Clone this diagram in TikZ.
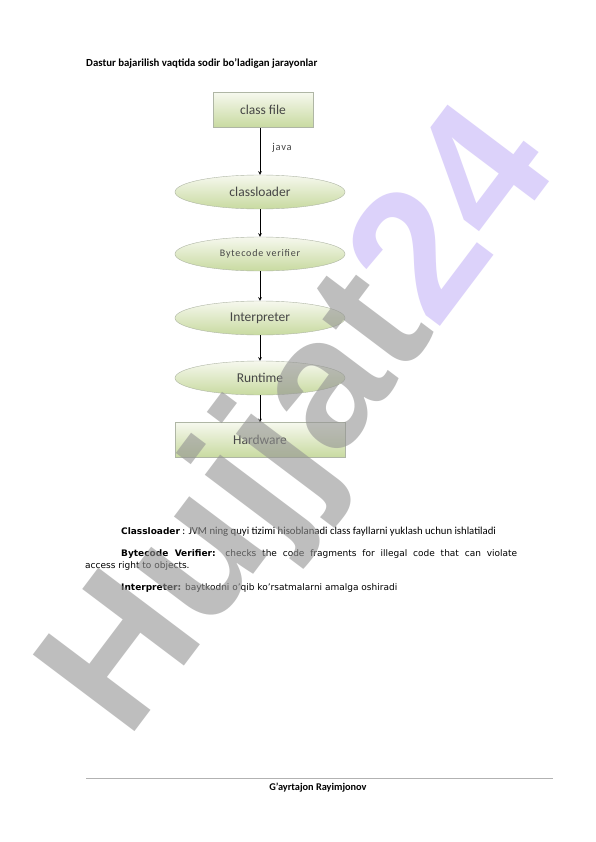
\documentclass[tikz,border=0pt]{standalone}
\usepackage{fontspec}
\setmainfont{Carlito}
\newfontfamily\verdanafont{DejaVu Sans}
\newfontfamily\spacedfont[LetterSpace=8]{Carlito}
\newfontfamily\markfont{Liberation Sans}
\usetikzlibrary{shapes.geometric}
\definecolor{boxline}{RGB}{175,182,165}
\definecolor{greentop}{RGB}{246,248,238}
\definecolor{greenbot}{RGB}{200,218,160}
\definecolor{labeltext}{RGB}{70,70,70}
\definecolor{markgray}{RGB}{147,147,147}
\definecolor{marklav}{RGB}{197,180,247}
\begin{document}
\begin{tikzpicture}[x=1pt,y=-1pt,
    filebox/.style={rectangle, draw=boxline, top color=greentop, bottom color=greenbot, minimum width=100pt, minimum height=35pt, font=\fontsize{13.5}{15}\selectfont, text=labeltext},
    stage/.style={ellipse, draw=boxline, top color=greentop, bottom color=greenbot, minimum width=170pt, minimum height=34pt, inner sep=0pt, font=\fontsize{13.5}{15}\selectfont, text=labeltext},
    arrow/.style={->,>=stealth,semithick},
    para/.style={anchor=base west, inner sep=0pt, font=\verdanafont\fontsize{9}{11}\selectfont}
]
\useasboundingbox (0,0) rectangle (596,842);
\fill[white] (0,0) rectangle (596,842);

% Title
\node[anchor=west, inner sep=0pt, font=\bfseries\fontsize{10.8}{12}\selectfont] (title) at (86,63) {Dastur bajarilish vaqtida sodir bo’ladigan jarayonlar};

% Flow of the JVM stages
\node[filebox] (classfile) at (263,110) {class file};
\node[stage] (classloader) at (260,192) {classloader};
\node[stage, font=\spacedfont\fontsize{10}{12}\selectfont] (verifier) at (260,254) {Bytecode verifier};
\node[stage] (interp) at (260,318) {Interpreter};
\node[stage] (runtime) at (260,378) {Runtime};
\node[filebox, minimum width=170pt] (hardware) at (260,440) {Hardware};
\node[font=\spacedfont\fontsize{10.5}{12}\selectfont, text=labeltext] (javalabel) at (282,148) {java};

% Arrows between the stages
\draw[arrow] (classloader.north |- classfile.south) -- (classloader);
\draw[arrow] (classloader) -- (verifier);
\draw[arrow] (verifier) -- (interp);
\draw[arrow] (interp) -- (runtime);
\draw[arrow] (runtime) -- (hardware);

% Explanations
\node[para] (clpara) at (121,534) {\textbf{Classloader}{\normalfont\fontsize{10.7}{12}\selectfont{} : JVM ning quyi tizimi hisoblanadi class fayllarni yuklash uchun ishlatiladi}};
\node[para] (bvpara) at (121,556) {\makebox[396pt][s]{\textbf{Bytecode Verifier:} checks the code fragments for illegal code that can violate}};
\node[para] (bvparatwo) at (85,568) {access right to objects.};
\node[para] (inpara) at (121,590) {\textbf{Interpreter:} baytkodni o’qib ko’rsatmalarni amalga oshiradi};

% Footer
\coordinate (ruleleft) at (86,778);
\coordinate (ruleright) at (553,778);
\draw[gray!60] (ruleleft) -- (ruleright);
\node[font=\bfseries\fontsize{10.3}{12}\selectfont] (author) at (318,788) {G’ayrtajon Rayimjonov};

% Watermark
\node[anchor=base west, inner sep=0pt, rotate=53, text opacity=0.6, font=\markfont\bfseries\fontsize{185}{185}\selectfont] (mark) at (127,742) {\textcolor{markgray}{Hujjat}\textcolor{marklav}{24}};

\end{tikzpicture}
\end{document}
